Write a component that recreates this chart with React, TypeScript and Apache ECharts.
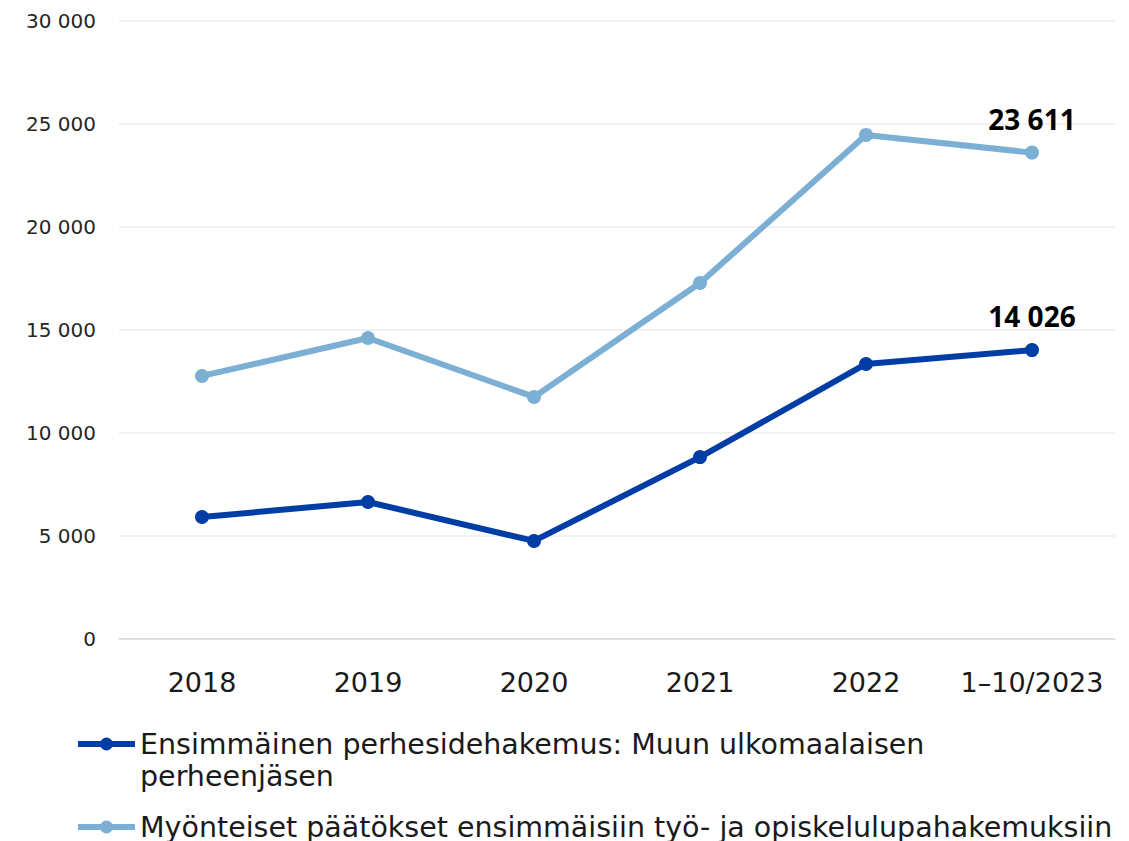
import React, { useEffect, useRef } from "react";
import * as echarts from "echarts";

const categories = ["2018", "2019", "2020", "2021", "2022", "1–10/2023"];
const familyName = "Ensimmäinen perhesidehakemus: Muun ulkomaalaisen perheenjäsen";
const workName = "Myönteiset päätökset ensimmäisiin työ- ja opiskelulupahakemuksiin";
const familyValues = [5920, 6650, 4760, 8830, 13350, 14026];
const workValues = [12770, 14610, 11750, 17280, 24470, 23611];
const yTicks = { min: 0, max: 30000, interval: 5000 };

const FONT = "'DejaVu Sans', sans-serif";
const BOLD_FONT = "'Noto Sans', sans-serif";
const fmt = (v: number) => String(v).replace(/\B(?=(\d{3})+(?!\d))/g, " ");

export default function App() {
  const ref = useRef<HTMLDivElement>(null);
  useEffect(() => {
    if (!ref.current) return;
    const chart = echarts.init(ref.current, null, { renderer: "svg" });
    const lastLabel = (arr: number[]) =>
      arr.map((v, i) =>
        i === arr.length - 1
          ? {
              value: v,
              label: {
                show: true,
                position: "top",
                distance: 13,
                formatter: (p: any) => fmt(p.value),
                fontFamily: BOLD_FONT,
                fontWeight: "bold",
                fontSize: 28,
                color: "#000",
              },
            }
          : v
      );
    chart.setOption({
      animation: false,
      textStyle: { fontFamily: FONT },
      grid: { left: 119, right: 14, top: 21, bottom: 202, containLabel: false },
      legend: {
        orient: "vertical",
        left: 70,
        top: 691,
        itemGap: 19,
        itemWidth: 57,
        itemHeight: 16,
        lineStyle: { width: 6 },
        data: [familyName, workName],
        formatter: (name: string) =>
          name === familyName
            ? " \nEnsimmäinen perhesidehakemus: Muun ulkomaalaisen\nperheenjäsen"
            : name,
        textStyle: { fontSize: 28.5, lineHeight: 32, color: "#1a1a1a", fontFamily: FONT },
      },
      xAxis: {
        type: "category",
        data: categories,
        boundaryGap: true,
        axisLine: { show: true, lineStyle: { color: "#d9d9d9", width: 1.5 } },
        axisTick: { show: false },
        axisLabel: {
          interval: 0,
          hideOverlap: false,
          fontSize: 27,
          color: "#1a1a1a",
          margin: 30,
          fontFamily: FONT,
        },
      },
      yAxis: {
        type: "value",
        min: yTicks.min,
        max: yTicks.max,
        interval: yTicks.interval,
        axisLine: { show: false },
        axisTick: { show: false },
        splitLine: { lineStyle: { color: "#ececec", width: 1.5 } },
        axisLabel: {
          fontSize: 20,
          color: "#262626",
          margin: 23,
          fontFamily: FONT,
          formatter: (v: number) => fmt(v),
        },
      },
      series: [
        {
          name: familyName,
          type: "line",
          data: lastLabel(familyValues),
          color: "#003DA5",
          lineStyle: { width: 6, color: "#003DA5" },
          symbol: "circle",
          symbolSize: 14,
          itemStyle: { color: "#003DA5" },
        },
        {
          name: workName,
          type: "line",
          data: lastLabel(workValues),
          color: "#7BAFD4",
          lineStyle: { width: 6, color: "#7BAFD4" },
          symbol: "circle",
          symbolSize: 14,
          itemStyle: { color: "#7BAFD4" },
        },
      ],
    });
    return () => chart.dispose();
  }, []);
  return (
    <div
      ref={ref}
      style={{ position: "fixed", left: 0, top: 0, width: 1129, height: 841, background: "#fff" }}
    />
  );
}
